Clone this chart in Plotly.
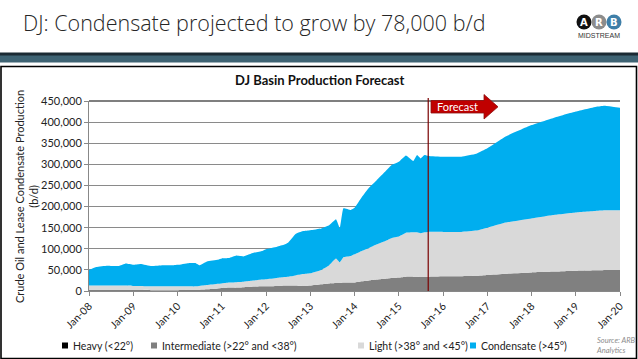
import plotly.graph_objects as go

# ---------------- data (thousand b/d) ----------------
dates = ["2008-01-01","2008-03-01","2008-06-01","2008-09-01","2008-11-01",
         "2009-01-01","2009-03-01","2009-06-01","2009-09-01","2009-12-01",
         "2010-01-01","2010-04-01","2010-06-01","2010-07-01","2010-09-01","2010-12-01",
         "2011-01-01","2011-03-01","2011-05-01","2011-07-01","2011-09-01","2011-12-01",
         "2012-01-01","2012-04-01","2012-06-01","2012-07-01","2012-09-01","2012-11-01",
         "2013-01-01","2013-04-01","2013-06-01","2013-08-01","2013-09-01","2013-10-01","2013-12-01",
         "2014-01-01","2014-03-01","2014-05-01","2014-07-01","2014-09-01","2014-11-01",
         "2015-01-01","2015-03-01","2015-05-01","2015-06-01","2015-07-01","2015-08-01","2015-09-01",
         "2016-01-01","2016-06-01","2016-10-01","2017-01-01","2017-06-01","2018-01-01",
         "2018-07-01","2019-01-01","2019-07-01","2019-09-01","2020-01-01"]

heavy = [0]*len(dates)
intermediate = [3,3,3,3,3,
                3,3,2,2,2,
                2,3,3,3,4,6,
                7,8,8,9,10,11,
                11,12,13,13,13,12,
                13,16,18,19,19,20,20,
                20,23,25,27,29,31,
                32,34,34,34,33,34,34,
                35,35,36,38,41,44,
                46,48,49,50,50]
light = [10,10,10,10,10,
         9,9,9,9,9,
         9,8,8,9,10,11,
         11,12,13,13,14,16,
         17,19,20,21,24,28,
         29,34,42,58,49,60,63,
         67,72,77,83,88,94,
         97,104,105,105,104,105,106,
         105,105,107,112,121,128,
         134,138,141,141,141]
condensate = [37,44,47,46,52,
              50,52,48,50,50,
              51,55,55,49,56,57,
              59,58,63,60,65,68,
              71,74,77,80,98,102,
              102,98,95,93,81,116,109,
              110,127,143,152,163,173,
              177,183,169,183,177,183,180,
              178,178,182,188,204,221,
              230,239,247,248,243]

x_ticks = ["2008-01-01","2009-01-01","2010-01-01","2011-01-01","2012-01-01","2013-01-01",
           "2014-01-01","2015-01-01","2016-01-01","2017-01-01","2018-01-01","2019-01-01","2020-01-01"]
x_tick_labels = ["Jan-08","Jan-09","Jan-10","Jan-11","Jan-12","Jan-13","Jan-14",
                 "Jan-15","Jan-16","Jan-17","Jan-18","Jan-19","Jan-20"]
y_ticks = [0,50000,100000,150000,200000,250000,300000,350000,400000,450000]
forecast_start = "2015-09-01"

series = [
    ("Heavy (<22°)", heavy, "#000000"),
    ("Intermediate (>22° and <38°)", intermediate, "#808080"),
    ("Light (>38° and <45°)", light, "#D9D9D9"),
    ("Condensate (>45°)", condensate, "#00AEEF"),
]

FONT = "Lato"
W, H = 638, 359
L, R, T, B = 89, 18, 101, 68
pw, ph = W-L-R, H-T-B
def px(xp): return (xp-L)/pw
def py(yp): return (H-B-yp)/ph

fig = go.Figure()
for name, vals, col in series:
    fig.add_trace(go.Scatter(
        x=dates, y=[v*1000 for v in vals], name=name, stackgroup="one",
        mode="lines", line=dict(width=0, color=col, shape="spline", smoothing=0.3),
        fillcolor=col, hoverinfo="skip", showlegend=False))

fig.update_layout(
    width=W, height=H, margin=dict(l=L, r=R, t=T, b=B, autoexpand=False),
    paper_bgcolor="white", plot_bgcolor="white",
    font=dict(family=FONT, size=11, color="#222"),
    showlegend=False,
    xaxis=dict(type="date", range=["2008-01-01","2020-01-01"], tickvals=x_ticks,
               ticktext=x_tick_labels, tickangle=-45, showgrid=False, automargin=False,
               ticks="outside", ticklen=4, tickcolor="#888", showline=True,
               linecolor="#888", tickfont=dict(size=10.5)),
    yaxis=dict(range=[0,450000], tickvals=y_ticks, tickformat=",", showgrid=True,
               gridcolor="#8a8a8a", gridwidth=1, ticks="outside", ticklen=4, automargin=False,
               tickcolor="#888", showline=True, linecolor="#888",
               tickfont=dict(size=11), zeroline=False),
)

shapes = []
shapes.append(dict(type="line", xref="paper", yref="paper", x0=0, x1=1, y0=1, y1=1,
                   line=dict(color="black", width=1.2)))
shapes.append(dict(type="line", xref="x", yref="paper", x0=forecast_start, x1=forecast_start,
                   y0=0, y1=py(98), line=dict(color="#7A0000", width=1.2)))
path = (f"M {px(431)},{py(100.5)} L {px(484)},{py(100.5)} L {px(484)},{py(94.5)} "
        f"L {px(498)},{py(106.8)} L {px(484)},{py(119)} L {px(484)},{py(113)} "
        f"L {px(431)},{py(113)} Z")
shapes.append(dict(type="path", xref="paper", yref="paper", path=path,
                   fillcolor="#C00000", line=dict(color="#8B1010", width=0.8)))
shapes.append(dict(type="rect", xref="paper", yref="paper", x0=px(0), x1=px(638),
                   y0=py(62.5), y1=py(53), fillcolor="#3E6373", line=dict(width=0), layer="above"))
shapes.append(dict(type="rect", xref="paper", yref="paper", x0=px(0), x1=px(638),
                   y0=py(55.5), y1=py(52.5), fillcolor="#1B2A33", line=dict(width=0), layer="above"))
shapes.append(dict(type="rect", xref="paper", yref="paper", x0=px(1), x1=px(636.5),
                   y0=py(358.5), y1=py(66.5), fillcolor="rgba(0,0,0,0)",
                   line=dict(color="black", width=1.6)))
for cx, col in [(584, "#111111"), (599, "#8C8C8C"), (614, "#3F7FA8")]:
    shapes.append(dict(type="circle", xref="paper", yref="paper",
                       x0=px(cx-7.5), x1=px(cx+7.5), y0=py(29.5), y1=py(14.5),
                       fillcolor=col, line=dict(width=0)))

ann = []
# manual legend
legend_pos = [62, 151, 358, 470]
for (name, vals, col), lx in zip(series, legend_pos):
    shapes.append(dict(type="rect", xref="paper", yref="paper", x0=px(lx), x1=px(lx+6),
                       y0=py(348.5), y1=py(342.5), fillcolor=col, line=dict(width=0)))
    ann.append(dict(text=name, xref="paper", yref="paper", x=px(lx+9), y=py(345.5),
                    xanchor="left", yanchor="middle", showarrow=False,
                    font=dict(size=10.5, color="#222")))
fig.update_layout(shapes=shapes)

ann.append(dict(text="Crude Oil and Lease Condensate Production<br>(b/d)", xref="paper",
                yref="paper", x=px(26), y=py(197), xanchor="center", yanchor="middle",
                textangle=-90, showarrow=False, font=dict(size=11, color="#222")))
ann.append(dict(text="DJ: Condensate projected to grow by 78,000 b/d", xref="paper", yref="paper",
                x=px(21), y=py(22), xanchor="left", yanchor="middle", showarrow=False,
                font=dict(family="Open Sans", size=21.5, color="#262626", weight=300)))
ann.append(dict(text="<b>DJ Basin Production Forecast</b>", xref="paper", yref="paper",
                x=px(320), y=py(80), xanchor="center", yanchor="middle", showarrow=False,
                font=dict(size=13, color="#111")))
ann.append(dict(text="Forecast", xref="paper", yref="paper", x=px(457), y=py(106.8),
                xanchor="center", yanchor="middle", showarrow=False,
                font=dict(size=11, color="white")))
ann.append(dict(text="<i>Source: ARB<br>Analytics</i>", xref="paper", yref="paper",
                x=px(594), y=py(345.5), xanchor="left", yanchor="middle", showarrow=False,
                align="left", font=dict(size=7.5, color="#8c8c8c")))
for cx, ch in [(584, "A"), (599, "R"), (614, "B")]:
    ann.append(dict(text=f"<b>{ch}</b>", xref="paper", yref="paper", x=px(cx), y=py(22),
                    xanchor="center", yanchor="middle", showarrow=False,
                    font=dict(family="DejaVu Sans", size=10, color="white")))
ann.append(dict(text="MIDSTREAM", xref="paper", yref="paper", x=px(599), y=py(35.5),
                xanchor="center", yanchor="middle", showarrow=False,
                font=dict(family="Liberation Sans", size=7, color="#333")))
fig.update_layout(annotations=ann)

fig.write_html("out.html", config={"displayModeBar": False},
               post_script="document.body.style.margin='0';document.body.style.overflow='hidden';")
